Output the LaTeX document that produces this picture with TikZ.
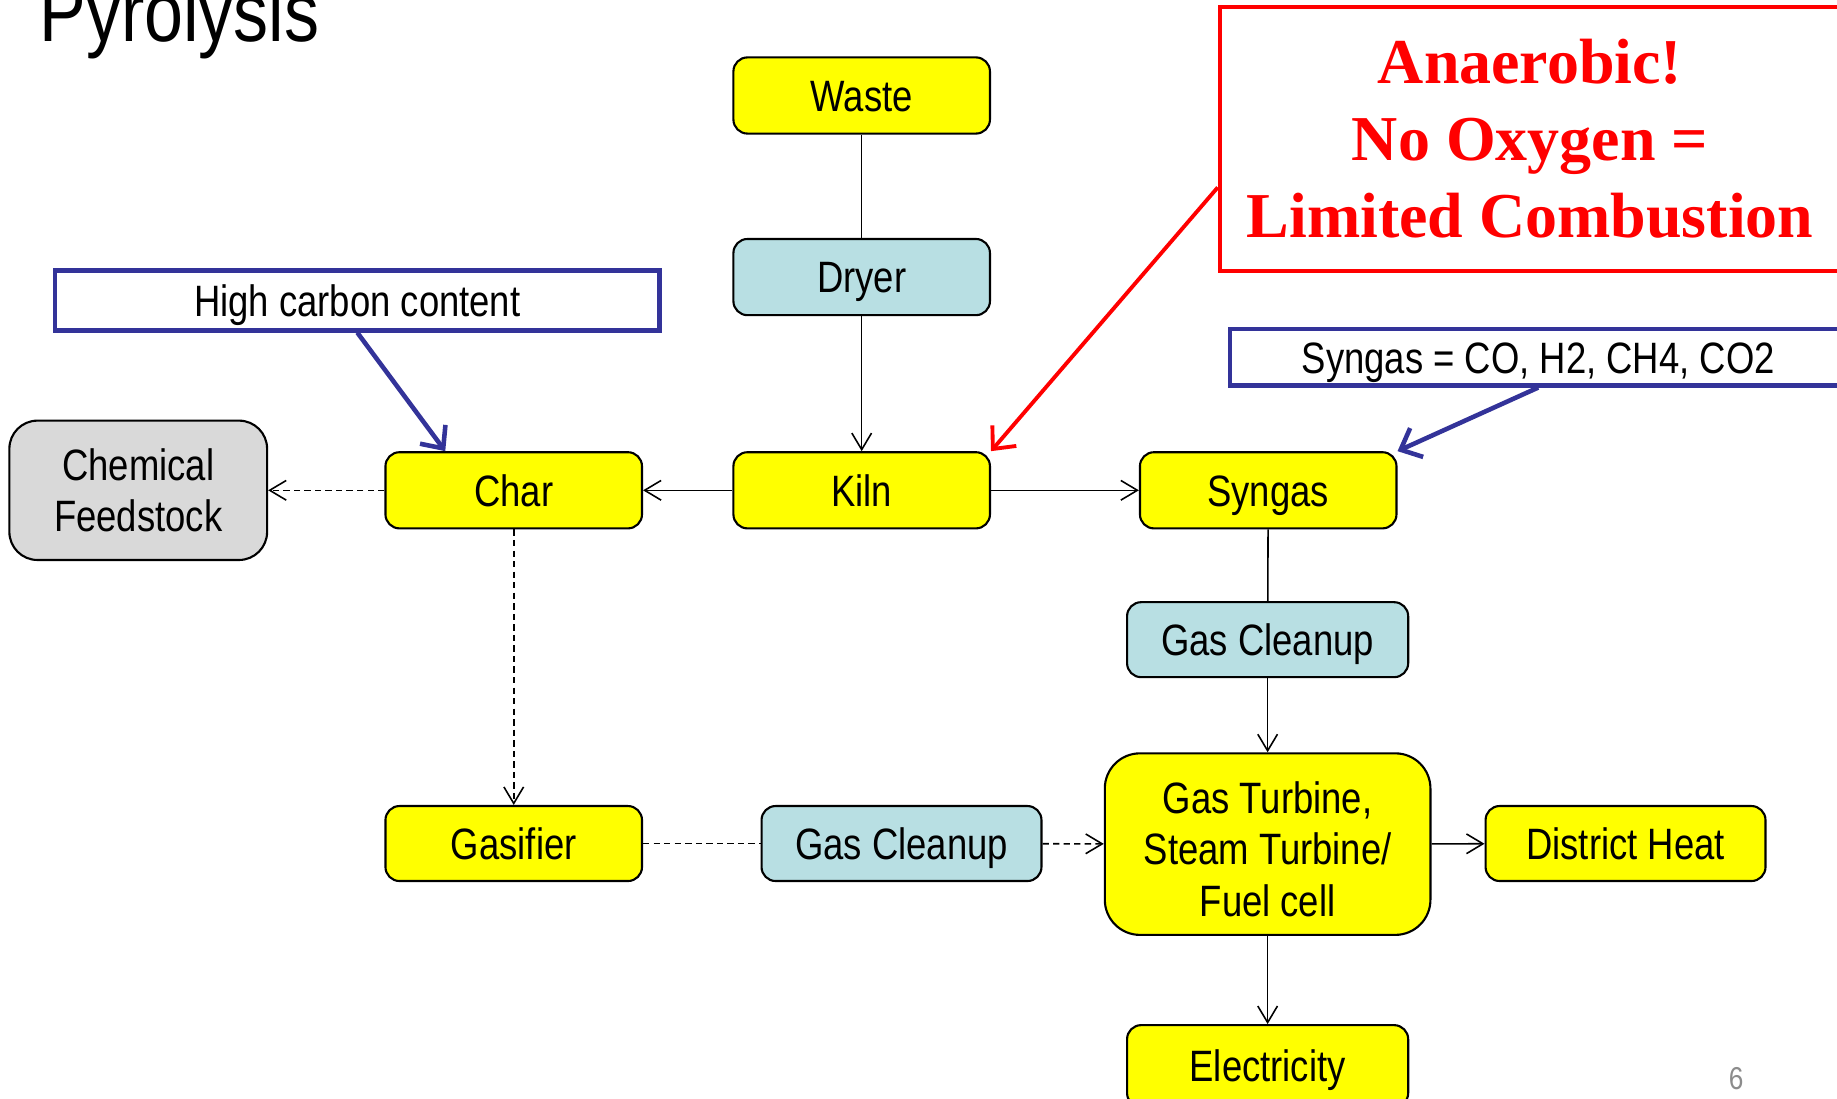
\documentclass[tikz,border=0pt]{standalone}
\usepackage{fontspec}
\setmainfont{Liberation Sans}[FakeStretch=0.83]
\newfontfamily\calloutfont{Liberation Serif}
\usetikzlibrary{arrows.meta,positioning}
\definecolor{procyellow}{HTML}{FFFF00}
\definecolor{proccyan}{HTML}{B8DFE3}
\definecolor{procgray}{HTML}{D9D9D9}
\definecolor{noteblue}{HTML}{333399}
\definecolor{pagegray}{HTML}{8C8C8C}

\begin{document}
\begin{tikzpicture}[x=0.011716cm,y=-0.011716cm,
    font=\fontsize{12.5}{14.6}\selectfont,
    >={Straight Barb[length=4.7pt,width=5.6pt]},
    stage/.style={draw, line width=0.6pt, rounded corners=4pt, align=center,
      minimum width=2.566cm, minimum height=0.762cm, inner sep=1pt,
      text height=9pt, text depth=0pt},
    multi/.style={text height={}, text depth={}},
    prod/.style={stage, fill=procyellow},
    treat/.style={stage, fill=proccyan},
    note/.style={draw=noteblue, line width=1.2pt, fill=white, minimum height=0.6cm, inner sep=1pt,
      text height=9pt, text depth=0pt},
    flow/.style={line width=0.45pt},
    dflow/.style={flow, dash pattern=on 1.8pt off 1.2pt},
    pointer/.style={line width=1.3pt, -{Straight Barb[length=5pt,width=9pt]}}]
  \useasboundingbox (0,0) rectangle (1568,938);
  % title and page number
  \node[anchor=base west, inner sep=0, font=\fontsize{24}{28}\selectfont] (title) at (33,35) {Pyrolysis};
  \node[text=pagegray, font=\fontsize{9}{10}\selectfont] (pageno) at (1482,921) {6};
  % main chain
  \node[prod] (waste) at (735.5,81.5) {Waste};
  \node[treat] (dryer) at (735.5,236.5) {Dryer};
  \node[prod] (kiln) at (735.5,418.5) {Kiln};
  \node[prod] (char) at (438.5,418.5) {Char};
  \node[stage, multi, fill=procgray, minimum width=2.578cm, minimum height=1.394cm, rounded corners=8pt] (feed) at (118,418.5) {Chemical\\Feedstock};
  \node[prod] (syngas) at (1082.5,418.5) {Syngas};
  \node[treat, minimum width=2.812cm, minimum height=0.75cm] (cleanA) at (1082,546) {Gas Cleanup};
  \node[prod, text height=41pt, text depth=0pt, minimum width=3.257cm, minimum height=1.816cm, rounded corners=10pt] (turbine) at (1082,720.5) {Gas Turbine,\\Steam Turbine/\\Fuel cell};
  \node[prod, minimum width=2.8cm, minimum height=0.75cm] (heat) at (1387.5,720) {District Heat};
  \node[prod, minimum width=2.812cm, minimum height=0.82cm] (elec) at (1082,910) {Electricity};
  \node[prod, minimum height=0.75cm] (gasifier) at (438.5,720) {Gasifier};
  \node[treat, minimum width=2.8cm, minimum height=0.75cm] (cleanB) at (769.5,720) {Gas Cleanup};
  % callouts
  \node[note, minimum width=6.046cm] (carbon) at (305,256.5) {High carbon content};
  \node[note, minimum width=6.174cm, minimum height=0.562cm] (gasmix) at (1313,305) {Syngas = CO, H2, CH4, CO2};
  \node[draw=red, line width=1.1pt, fill=white, text=red, align=center, minimum width=6.21cm, minimum height=2.636cm,
    font=\calloutfont\bfseries\fontsize{18.2}{22}\selectfont] (anaer) at (1306,118.5) {Anaerobic!\\No Oxygen =\\Limited Combustion};
  % connectors
  \draw[flow] (waste) -- (dryer);
  \draw[flow,->] (dryer) -- (kiln);
  \draw[flow,->] (kiln) -- (char);
  \draw[flow,->] (kiln) -- (syngas);
  \draw[dflow,->] (char) -- (feed);
  \draw[dflow,->] (char) -- (gasifier);
  \draw[dflow] (gasifier) -- (cleanB);
  \draw[dflow,->] (cleanB) -- (turbine);
  \draw[flow] (syngas) -- (cleanA);
  \draw[flow,->] (cleanA) -- (turbine);
  \draw[flow,->] (turbine) -- (heat);
  \draw[flow,->] (turbine) -- (elec);
  \draw[pointer, noteblue] (carbon.south) -- ([xshift=-0.685cm]char.north);
  \draw[pointer, noteblue] (gasmix.south) -- (syngas.north east);
  \draw[pointer, red, line width=1.1pt] ([yshift=-0.486cm]anaer.west) -- (kiln.north east);
\end{tikzpicture}
\end{document}
